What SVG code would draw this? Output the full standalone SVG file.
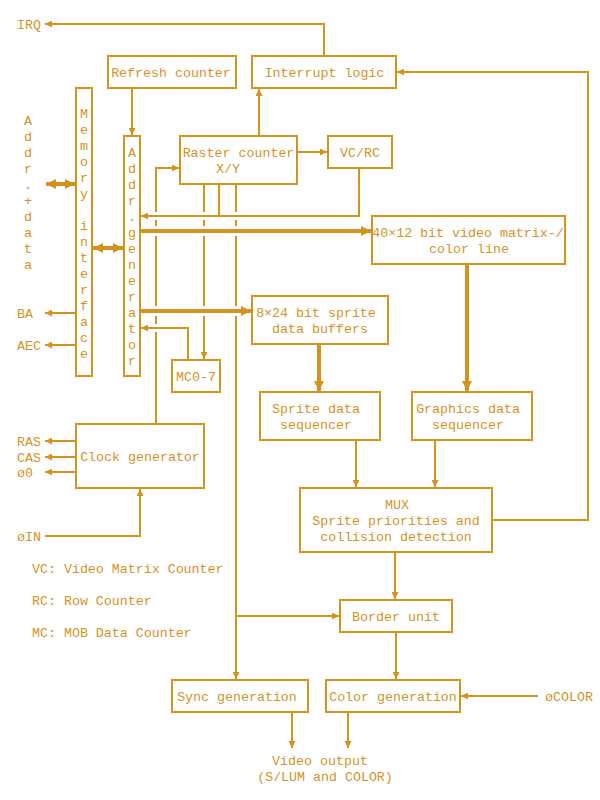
<svg xmlns="http://www.w3.org/2000/svg" width="600" height="800" viewBox="0 0 600 800">
<style>
.bx{fill:none;stroke:#d4931f;stroke-width:2}
.ln{fill:none;stroke:#d4931f;stroke-width:2}
.tk{fill:none;stroke:#d4931f;stroke-width:4}
.a{marker-end:url(#ah)}
.at{marker-end:url(#aht)}
.ab{marker-start:url(#aht);marker-end:url(#aht)}
text{font-family:"Liberation Mono","DejaVu Sans Mono",monospace;font-size:13.3px;fill:#d4931f}
.m{text-anchor:middle}
</style>
<defs>
<marker id="ah" viewBox="0 0 8 8" refX="8" refY="4" markerWidth="7" markerHeight="7" markerUnits="userSpaceOnUse" orient="auto"><path d="M0,0 L8,4 L0,8 z" fill="#d4931f"/></marker>
<marker id="aht" viewBox="0 0 8 8" refX="8" refY="4" markerWidth="10" markerHeight="10" markerUnits="userSpaceOnUse" orient="auto-start-reverse"><path d="M0,0 L8,4 L0,8 z" fill="#d4931f"/></marker>
</defs>
<rect width="600" height="800" fill="#ffffff"/>

<g id="connectors">
<path class="ln a" d="M324,56 L324,24 L45,24"/>
<path class="ln a" d="M492,520 L588,520 L588,72 L397,72"/>
<path class="ln a" d="M132,88 L132,135"/>
<path class="ln a" d="M259,136 L259,89"/>
<path class="ln a" d="M297,152 L327,152"/>
<path class="ln a" d="M359,168 L359,216 L141,216"/>
<path class="ln" d="M219,184 L219,216"/>
<path class="ln a" d="M156,424 L156,332 M156,324 L156,316 M156,306 L156,236 M156,226 L156,220 M156,212 L156,168 L179,168"/>
<path class="ln a" d="M204,184 L204,212 M204,220 L204,226 M204,236 L204,306 M204,316 L204,359"/>
<path class="ln a" d="M236,184 L236,212 M236,220 L236,226 M236,236 L236,306 M236,316 L236,679"/>
<path class="ln a" d="M236,616 L339,616"/>
<path class="tk at" d="M140,231 L371,231"/>
<path class="tk at" d="M140,311 L251,311"/>
<path class="ln a" d="M188,360 L188,328 L141,328"/>
<path class="tk ab" d="M46,184 L75,184"/>
<path class="tk ab" d="M93,248 L123,248"/>
<path class="ln a" d="M76,313 L45,313"/>
<path class="ln a" d="M76,345 L45,345"/>
<path class="ln a" d="M76,441 L45,441"/>
<path class="ln a" d="M76,457 L45,457"/>
<path class="ln a" d="M76,472 L45,472"/>
<path class="ln a" d="M45,536 L140,536 L140,489"/>
<path class="tk at" d="M319,344 L319,391"/>
<path class="tk at" d="M467,264 L467,391"/>
<path class="ln a" d="M356,440 L356,487"/>
<path class="ln a" d="M435,440 L435,487"/>
<path class="ln a" d="M395,552 L395,599"/>
<path class="ln a" d="M396,632 L396,679"/>
<path class="ln a" d="M538,696 L461,696"/>
<path class="ln a" d="M292,712 L292,748"/>
<path class="ln a" d="M348,712 L348,748"/>
</g>

<g id="refresh-counter"><rect class="bx" x="108" y="56" width="128" height="32"/><text class="m" x="171" y="76.5">Refresh counter</text></g>
<g id="interrupt-logic"><rect class="bx" x="252" y="56" width="144" height="32"/><text class="m" x="324.5" y="76.5">Interrupt logic</text></g>
<g id="memory-interface"><rect class="bx" x="76" y="88" width="16" height="288"/>
<text class="m"><tspan x="84" y="117.5">M</tspan><tspan x="84" y="133.5">e</tspan><tspan x="84" y="149.5">m</tspan><tspan x="84" y="165.5">o</tspan><tspan x="84" y="181.5">r</tspan><tspan x="84" y="197.5">y</tspan><tspan x="84" y="229.5">i</tspan><tspan x="84" y="245.5">n</tspan><tspan x="84" y="261.5">t</tspan><tspan x="84" y="277.5">e</tspan><tspan x="84" y="293.5">r</tspan><tspan x="84" y="309.5">f</tspan><tspan x="84" y="325.5">a</tspan><tspan x="84" y="341.5">c</tspan><tspan x="84" y="357.5">e</tspan></text></g>
<g id="addr-generator"><rect class="bx" x="124" y="136" width="16" height="240"/>
<text class="m"><tspan x="132" y="156.5">A</tspan><tspan x="132" y="172.5">d</tspan><tspan x="132" y="188.5">d</tspan><tspan x="132" y="204.5">r</tspan><tspan x="132" y="220.5">.</tspan><tspan x="132" y="236.5">g</tspan><tspan x="132" y="252.5">e</tspan><tspan x="132" y="268.5">n</tspan><tspan x="132" y="284.5">e</tspan><tspan x="132" y="300.5">r</tspan><tspan x="132" y="316.5">a</tspan><tspan x="132" y="332.5">t</tspan><tspan x="132" y="348.5">o</tspan><tspan x="132" y="364.5">r</tspan></text></g>
<g id="addr-data-label"><text class="m"><tspan x="28" y="124.5">A</tspan><tspan x="28" y="140.5">d</tspan><tspan x="28" y="156.5">d</tspan><tspan x="28" y="172.5">r</tspan><tspan x="28" y="188.5">.</tspan><tspan x="28" y="204.5">+</tspan><tspan x="28" y="220.5">d</tspan><tspan x="28" y="236.5">a</tspan><tspan x="28" y="252.5">t</tspan><tspan x="28" y="268.5">a</tspan></text></g>
<g id="raster-counter"><rect class="bx" x="180" y="136" width="117" height="48"/><text class="m" x="238.5" y="156.5">Raster counter</text><text class="m" x="228" y="172.5">X/Y</text></g>
<g id="vc-rc"><rect class="bx" x="328" y="136" width="64" height="32"/><text class="m" x="360" y="156.5">VC/RC</text></g>
<g id="video-matrix"><rect class="bx" x="372" y="216" width="193" height="48"/><text class="m" x="468" y="236.5">40×12 bit video matrix-/</text><text class="m" x="469" y="252.5">color line</text></g>
<g id="sprite-buffers"><rect class="bx" x="252" y="296" width="136" height="48"/><text class="m" x="316" y="316.5">8×24 bit sprite</text><text class="m" x="320" y="332.5">data buffers</text></g>
<g id="mc07"><rect class="bx" x="172" y="360" width="48" height="32"/><text class="m" x="196" y="380.5">MC0-7</text></g>
<g id="sprite-seq"><rect class="bx" x="260" y="392" width="120" height="48"/><text class="m" x="316" y="412.5">Sprite data</text><text class="m" x="316" y="428.5">sequencer</text></g>
<g id="graphics-seq"><rect class="bx" x="412" y="392" width="120" height="48"/><text class="m" x="468" y="412.5">Graphics data</text><text class="m" x="468" y="428.5">sequencer</text></g>
<g id="clock-generator"><rect class="bx" x="76" y="424" width="128" height="64"/><text class="m" x="140" y="460.5">Clock generator</text></g>
<g id="mux"><rect class="bx" x="300" y="488" width="192" height="64"/><text class="m" x="397" y="508.5">MUX</text><text class="m" x="396" y="524.5">Sprite priorities and</text><text class="m" x="396" y="540.5">collision detection</text></g>
<g id="border-unit"><rect class="bx" x="340" y="600" width="112" height="32"/><text class="m" x="396" y="620.5">Border unit</text></g>
<g id="sync-generation"><rect class="bx" x="172" y="680" width="136" height="32"/><text class="m" x="237" y="700.5">Sync generation</text></g>
<g id="color-generation"><rect class="bx" x="326" y="680" width="134" height="32"/><text class="m" x="393" y="700.5">Color generation</text></g>

<g id="labels">
<text x="17" y="28.5">IRQ</text>
<text x="17" y="317.5">BA</text>
<text x="17" y="349.5">AEC</text>
<text x="17" y="445.5">RAS</text>
<text x="17" y="461.5">CAS</text>
<text x="17" y="476.5">ø0</text>
<text x="17" y="540.5">øIN</text>
<text x="545" y="700.5">øCOLOR</text>
<text x="32" y="572.5">VC: Video Matrix Counter</text>
<text x="32" y="604.5">RC: Row Counter</text>
<text x="32" y="636.5">MC: MOB Data Counter</text>
<text class="m" x="320" y="764.5">Video output</text>
<text class="m" x="325" y="780.5">(S/LUM and COLOR)</text>
</g>
</svg>
